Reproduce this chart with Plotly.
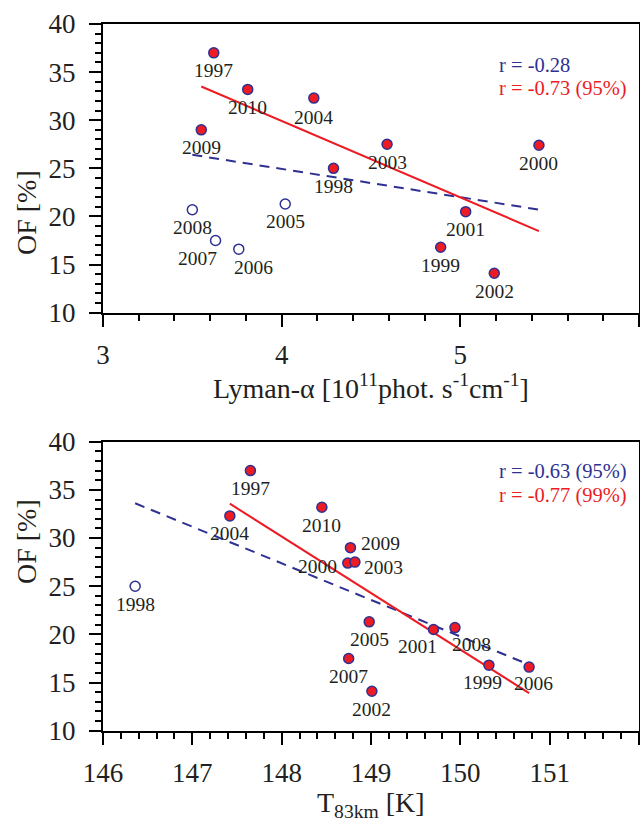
import numpy as np
import plotly.graph_objects as go

# ---------------- data ----------------
years = [1997, 1998, 1999, 2000, 2001, 2002, 2003, 2004, 2005, 2006, 2007, 2008, 2009, 2010]
of_pct = [37.0, 25.0, 16.8, 27.4, 20.5, 14.1, 27.5, 32.3, 21.3, 16.6, 17.5, 20.7, 29.0, 33.2]
lyman_alpha = [3.62, 4.29, 4.89, 5.44, 5.03, 5.19, 4.59, 4.18, 4.02, 3.76, 3.63, 3.50, 3.55, 3.81]
t83km = [147.65, 146.36, 150.32, 148.74, 149.70, 149.01, 148.82, 147.42, 148.98, 150.77, 148.75, 149.94, 148.77, 148.45]
open_years_top = [2005, 2006, 2007, 2008]
open_years_bottom = [1998]
r_text_top = ["r = -0.28", "r = -0.73 (95%)"]
r_text_bottom = ["r = -0.63 (95%)", "r = -0.77 (99%)"]

# label offsets in pixels (xshift, yshift)
label_shift_top = {2007: (-18, -18), 2006: (15, -18), 2004: (0, -19)}
label_shift_bottom = {2009: (30, 4), 2003: (29, -5), 2000: (-30, -3), 2001: (-16, -17),
                      2008: (17, -17), 1999: (-6, -17), 2006: (4, -16)}

BLUE = "#2E3192"
RED = "#ED1C24"
TXT = "#231F20"
FONT = "Liberation Serif, Times New Roman, serif"
W, H = 640, 818


def py(p):
    return 1 - p / H


fig = go.Figure()


def add_panel(xvals, open_years, xa, ya, shifts):
    x = np.array(xvals)
    y = np.array(of_pct)
    yrs = np.array(years)
    filled = ~np.isin(yrs, open_years)
    # fits
    for mask, color, dash in [(np.ones_like(filled), BLUE, "10px,7px"), (filled, RED, "solid")]:
        mask = mask.astype(bool)
        k, b = np.polyfit(x[mask], y[mask], 1)
        xs = np.array([x[mask].min(), x[mask].max()])
        fig.add_trace(go.Scatter(x=xs, y=k * xs + b, mode="lines", xaxis=xa, yaxis=ya,
                                 line=dict(color=color, width=2, dash=dash),
                                 showlegend=False, hoverinfo="skip"))
    fig.add_trace(go.Scatter(x=x[~filled], y=y[~filled], mode="markers", xaxis=xa, yaxis=ya,
                             marker=dict(size=10, color="white", line=dict(color=BLUE, width=1.5)),
                             showlegend=False))
    fig.add_trace(go.Scatter(x=x[filled], y=y[filled], mode="markers", xaxis=xa, yaxis=ya,
                             marker=dict(size=10, color=RED, line=dict(color=BLUE, width=1.5)),
                             showlegend=False))
    for xi, yi, yr in zip(x, y, yrs):
        dx, dy = shifts.get(int(yr), (0, -18))
        fig.add_annotation(x=xi, y=yi, xref=xa, yref=ya, text=str(yr), showarrow=False,
                           xshift=dx, yshift=dy, font=dict(family=FONT, size=19.5, color=TXT))


add_panel(lyman_alpha, open_years_top, "x", "y", label_shift_top)
add_panel(t83km, open_years_bottom, "x2", "y2", label_shift_bottom)

xdom = [103 / W, 639 / W]
axis_common = dict(showline=True, mirror=True, linecolor="black", linewidth=2,
                   ticks="outside", ticklen=12, tickwidth=2, tickcolor="black",
                   showgrid=False, zeroline=False, automargin=False,
                   tickfont=dict(family=FONT, size=27, color=TXT))

fig.update_layout(
    width=W, height=H, margin=dict(l=0, r=0, t=0, b=0, autoexpand=False),
    paper_bgcolor="white", plot_bgcolor="white",
    xaxis=dict(domain=xdom, anchor="y", range=[3, 6], tickvals=[3, 4, 5, 6],
               ticktext=["3", "4", "5", ""], ticklabelstandoff=5,
               minor=dict(dtick=0.2, ticklen=6, tickwidth=2, ticks="outside", tickcolor="black"),
               **axis_common),
    yaxis=dict(domain=[py(312.7), py(24)], anchor="x", range=[10, 40], dtick=5,
               ticklabelstandoff=8,
               minor=dict(dtick=1, ticklen=6, tickwidth=2, ticks="outside", tickcolor="black"),
               **axis_common),
    xaxis2=dict(domain=xdom, anchor="y2", range=[146, 152], tickvals=list(range(146, 153)),
                ticktext=["146", "147", "148", "149", "150", "151", ""], ticklabelstandoff=5,
                minor=dict(dtick=0.2, ticklen=6, tickwidth=2, ticks="outside", tickcolor="black"),
                **axis_common),
    yaxis2=dict(domain=[py(730.7), py(441.7)], anchor="x2", range=[10, 40], dtick=5,
                ticklabelstandoff=8,
                minor=dict(dtick=1, ticklen=6, tickwidth=2, ticks="outside", tickcolor="black"),
                **axis_common),
)

title_font = dict(family=FONT, size=28, color=TXT)
fig.add_annotation(x=371 / W, y=py(387), xref="paper", yref="paper", showarrow=False,
                   text="Lyman-α [10<sup>11</sup>phot. s<sup>-1</sup>cm<sup>-1</sup>]", font=title_font)
fig.add_annotation(x=371 / W, y=py(806), xref="paper", yref="paper", showarrow=False,
                   yshift=-18, text="T<sub>83km</sub> [K]", font=title_font)
for yc in (168, 586):
    fig.add_annotation(x=27 / W, y=py(yc), xref="paper", yref="paper", showarrow=False,
                       xshift=-18, text="OF [%]", textangle=-90, font=title_font)

leg_font = 20.5
for txt, col, yc in [(r_text_top[0], BLUE, 51.7), (r_text_top[1], RED, 75),
                     (r_text_bottom[0], BLUE, 471.7), (r_text_bottom[1], RED, 495)]:
    fig.add_annotation(x=497 / W, y=py(yc), xref="paper", yref="paper", showarrow=False,
                       xanchor="left", text=txt, font=dict(family=FONT, size=leg_font, color=col))

fig.write_html("out.html")
